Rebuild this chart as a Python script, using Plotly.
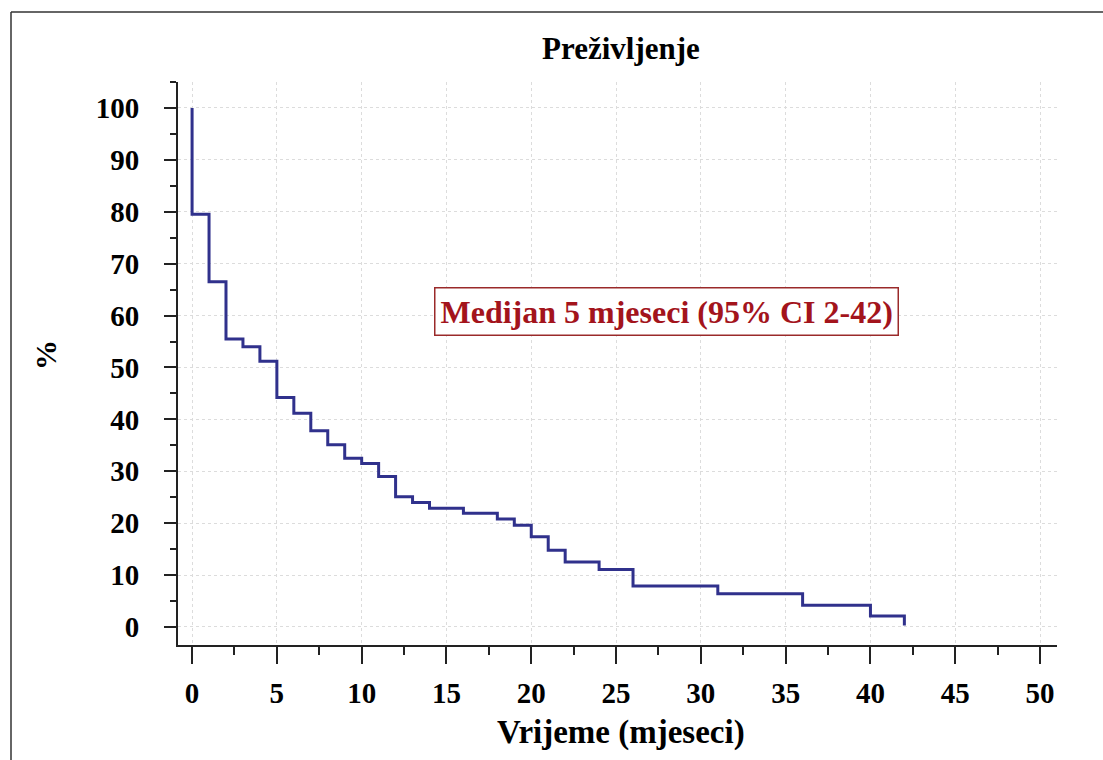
import plotly.graph_objects as go

# Kaplan-Meier survival steps (time in months, survival %)
times = [0, 0, 1, 2, 3, 4, 5, 6, 7, 8, 9, 10, 11, 12, 13, 14, 16, 18, 19, 20, 21, 22, 24, 26, 31, 36, 40, 42]
survival = [100, 79.5, 66.5, 55.5, 54.0, 51.2, 44.2, 41.2, 37.8, 35.1, 32.5, 31.5, 29.0, 25.1, 24.0, 22.9,
            21.9, 20.8, 19.6, 17.4, 14.8, 12.5, 11.1, 7.9, 6.4, 4.2, 2.1, 0.3]
x_ticks = [0, 5, 10, 15, 20, 25, 30, 35, 40, 45, 50]
y_ticks = [0, 10, 20, 30, 40, 50, 60, 70, 80, 90, 100]

title_text = "Preživljenje"
x_title = "Vrijeme (mjeseci)"
y_title = "%"
note_text = "Medijan 5 mjeseci (95% CI 2-42)"

FONT = "Liberation Serif"

fig = go.Figure()
fig.add_trace(go.Scatter(
    x=times, y=survival, mode="lines", line_shape="hv",
    line=dict(color="#30318c", width=3), showlegend=False, hoverinfo="skip"))

W, H = 1103, 760
L, T = 178, 82
R = W - 1057
B = H - 645
pw, ph = W - L - R, H - T - B

def px(x):
    return (x - L) / pw

def py(y):
    return (H - B - y) / ph

fig.update_layout(
    width=W, height=H,
    margin=dict(l=L, r=R, t=T, b=B),
    paper_bgcolor="white", plot_bgcolor="white",
    font=dict(family=FONT, color="black"),
    xaxis=dict(
        range=[-0.83, 51.0], tickvals=x_ticks, ticktext=[str(v) for v in x_ticks],
        showline=True, linecolor="#222", linewidth=2, mirror=False,
        ticks="outside", ticklen=17, tickwidth=2, tickcolor="#222",
        minor=dict(dtick=2.5, tick0=0, ticks="outside", ticklen=8, tickwidth=1.5, tickcolor="#222", showgrid=False),
        showgrid=True, gridcolor="#dcdcdc", griddash="dot", gridwidth=1,
        zeroline=False,
        tickfont=dict(family=FONT, size=29, color="black", weight="bold"),
        ticklabelstandoff=4,
    ),
    yaxis=dict(
        range=[-3.47, 105.0], tickvals=y_ticks, ticktext=[str(v) for v in y_ticks],
        showline=True, linecolor="#222", linewidth=2,
        ticks="outside", ticklen=12, tickwidth=2, tickcolor="#222",
        minor=dict(dtick=5, tick0=0, ticks="outside", ticklen=6, tickwidth=1.5, tickcolor="#222", showgrid=False),
        showgrid=True, gridcolor="#dcdcdc", griddash="dot", gridwidth=1,
        zeroline=False,
        tickfont=dict(family=FONT, size=29, color="black", weight="bold"),
        ticklabelstandoff=19,
    ),
    annotations=[
        dict(text=title_text, xref="paper", yref="paper", x=px(621), y=py(48),
             xanchor="center", yanchor="middle",
             showarrow=False, font=dict(family=FONT, size=31, color="black", weight="bold")),
        dict(text=x_title, xref="paper", yref="paper", x=px(621), y=py(732),
             xanchor="center", yanchor="middle",
             showarrow=False, font=dict(family=FONT, size=33, color="black", weight="bold")),
        dict(text=y_title, xref="paper", yref="paper", x=px(45), y=py(355), textangle=-90,
             xanchor="center", yanchor="middle",
             showarrow=False, font=dict(family=FONT, size=30, color="black", weight="bold")),
        dict(text=note_text, xref="x", yref="y", x=28.0, y=60.7,
             xanchor="center", yanchor="middle",
             showarrow=False, font=dict(family=FONT, size=32, color="#a3141c", weight="bold"),
             bordercolor="#9a2a2a", borderwidth=1.5, borderpad=5, bgcolor="white"),
    ],
    shapes=[
        dict(type="line", xref="paper", yref="paper",
             x0=px(11), x1=px(1130), y0=py(12), y1=py(12),
             line=dict(color="#333", width=1.5), layer="below"),
        dict(type="line", xref="paper", yref="paper",
             x0=px(11), x1=px(11), y0=py(12), y1=py(800),
             line=dict(color="#333", width=1.5), layer="below"),
    ],
)

fig.write_html("out.html",
               config={"displayModeBar": False},
               post_script="document.body.style.margin='0px';document.body.style.overflow='hidden';")
